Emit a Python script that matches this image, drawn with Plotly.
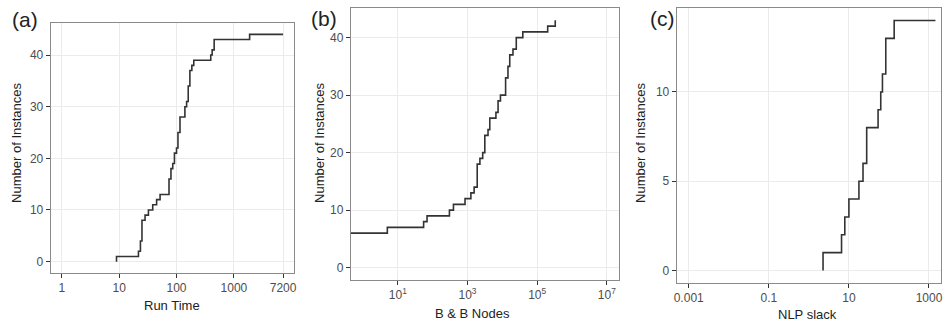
import plotly.graph_objects as go

# Panel (a): cumulative instances solved vs run time
run_time = [9, 9, 21.7, 23.5, 25, 28.3, 32.4, 38.5, 45, 51.7, 74, 80, 86, 92, 100, 106, 115,
            140, 150, 160, 171, 185, 200, 395, 418, 453, 1880, 7200]
run_count = [0, 1, 2, 4, 8, 9, 10, 11, 12, 13, 16, 18, 19, 21, 22, 25, 28,
             30, 31, 34, 37, 38, 39, 40, 41, 43, 44, 44]

# Panel (b): cumulative instances vs branch & bound nodes
bb_nodes = [0.4, 5, 55, 69, 303, 395, 850, 1250, 1550, 1900, 2270, 2730, 3140, 3880, 4360,
            6540, 7540, 8830, 12400, 14500, 16300, 20200, 25100, 38700, 2.0e5, 3.3e5]
bb_count = [6, 7, 8, 9, 10, 11, 12, 13, 14, 18, 19, 20, 23, 24, 26,
            27, 29, 30, 33, 35, 37, 38, 40, 41, 42, 43]

# Panel (c): cumulative instances vs NLP slack
nlp_slack = [2.26, 2.26, 6.55, 7.9, 10, 17.8, 22.5, 27.8, 53.5, 62.4, 68.8, 83.3, 135, 1450]
nlp_count = [0, 1, 2, 3, 4, 5, 6, 8, 9, 10, 11, 13, 14, 14]

# tick labels
a_xticks = [1, 10, 100, 1000, 7200]
a_xlabels = ["1", "10", "100", "1000", "7200"]
b_xticks = [10, 1e3, 1e5, 1e7]
b_xlabels = ["10<sup>1</sup>", "10<sup>3</sup>", "10<sup>5</sup>", "10<sup>7</sup>"]
c_xticks = [0.001, 0.1, 10, 1000]
c_xlabels = ["0.001", "0.1", "10", "1000"]
a_yticks = [0, 10, 20, 30, 40]
b_yticks = [0, 10, 20, 30, 40]
c_yticks = [0, 5, 10]

W, H = 946, 326
LINE = "#333333"
FONT = "Liberation Sans, Arial, sans-serif"

fig = go.Figure()
fig.add_trace(go.Scatter(x=run_time, y=run_count, mode="lines", line=dict(shape="hv", color=LINE, width=1.6),
                         xaxis="x", yaxis="y", showlegend=False))
fig.add_trace(go.Scatter(x=bb_nodes, y=bb_count, mode="lines", line=dict(shape="hv", color=LINE, width=1.6),
                         xaxis="x2", yaxis="y2", showlegend=False))
fig.add_trace(go.Scatter(x=nlp_slack, y=nlp_count, mode="lines", line=dict(shape="hv", color=LINE, width=1.6),
                         xaxis="x3", yaxis="y3", showlegend=False))


def px_x(a, b):
    return [a / W, b / W]


def px_y(top, bottom):
    return [1 - bottom / H, 1 - top / H]


common = dict(showline=True, mirror=True, linecolor="#8a8a8a", linewidth=1,
              showgrid=True, gridcolor="#ebebeb", gridwidth=1, zeroline=False,
              ticks="outside", ticklen=4, tickwidth=1, tickcolor="#333333",
              tickfont=dict(family=FONT, size=12, color="#4d4d4d"))

layout = dict(
    width=W, height=H, margin=dict(l=0, r=0, t=0, b=0),
    paper_bgcolor="white", plot_bgcolor="white",
    xaxis=dict(type="log", range=[-0.1929, 4.0502], domain=px_x(48, 293), anchor="y",
               tickmode="array", tickvals=a_xticks, ticktext=a_xlabels, **common),
    yaxis=dict(range=[-2.2, 46.2], domain=px_y(23, 273), anchor="x",
               tickmode="array", tickvals=a_yticks, **common),
    xaxis2=dict(type="log", range=[-0.35, 7.35], domain=px_x(350, 620), anchor="y2",
                tickmode="array", tickvals=b_xticks, ticktext=b_xlabels, **common),
    yaxis2=dict(range=[-2.15, 45.15], domain=px_y(8, 280), anchor="x2",
                tickmode="array", tickvals=b_yticks, **common),
    xaxis3=dict(type="log", range=[-3.3, 3.3], domain=px_x(678, 944), anchor="y3",
                tickmode="array", tickvals=c_xticks, ticktext=c_xlabels, **common),
    yaxis3=dict(range=[-0.7, 14.7], domain=px_y(8, 283), anchor="x3",
                tickmode="array", tickvals=c_yticks, **common),
)
fig.update_layout(**layout)

title_font = dict(family=FONT, size=13, color="#222222")
panel_font = dict(family=FONT, size=21, color="#222222")


def ann(text, x, y, font, angle=0, xanchor="center"):
    fig.add_annotation(text=text, x=x / W, y=1 - y / H, xref="paper", yref="paper",
                       showarrow=False, font=font, textangle=angle,
                       xanchor=xanchor, yanchor="middle")


ann("(a)", 7, 19, panel_font, xanchor="left")
ann("(b)", 308, 18, panel_font, xanchor="left")
ann("(c)", 649, 18, panel_font, xanchor="left")

ann("Run Time", 170, 305, title_font)
ann("B &amp; B Nodes", 472, 313, title_font)
ann("NLP slack", 810, 314, title_font)

ann("Number of Instances", 13, 143, title_font, angle=-90)
ann("Number of Instances", 318, 143, title_font, angle=-90)
ann("Number of Instances", 641, 143, title_font, angle=-90)

fig.write_html("out.html")
